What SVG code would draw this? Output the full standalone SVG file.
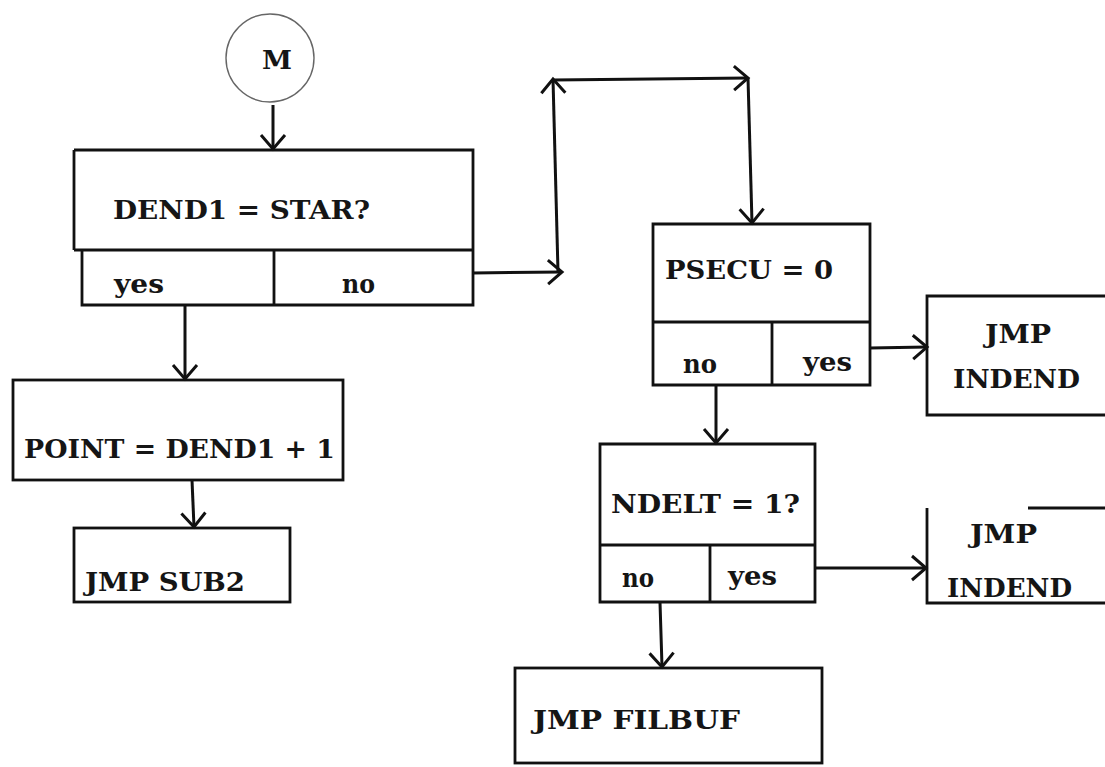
<svg xmlns="http://www.w3.org/2000/svg" width="1105" height="767" viewBox="0 0 1105 767">
<defs>
<style>
.b{fill:none;stroke:#111;stroke-width:2.8;stroke-linejoin:miter}
.c{fill:none;stroke:#111;stroke-width:3}
.t{font-family:"DejaVu Serif","Liberation Serif",serif;font-weight:bold;font-size:26px;fill:#151515}
</style>
<marker id="ah" markerUnits="userSpaceOnUse" markerWidth="32" markerHeight="32" refX="16" refY="14" orient="auto">
<path d="M2,2 L16,14 L2,26" fill="none" stroke="#111" stroke-width="3"/>
</marker>
</defs>
<rect width="1105" height="767" fill="#fff"/>
<g id="start">
<circle cx="270" cy="58" r="44" fill="none" stroke="#666" stroke-width="1.4"/>
<text class="t" x="262" y="69" textLength="30" lengthAdjust="spacingAndGlyphs">M</text>
</g>
<g id="dend1">
<path class="b" d="M74,150 H473 V305 H82 V250 M74,250 V150 M74,250 H473 M274,250 V305"/>
<text class="t" x="113" y="219" textLength="257" lengthAdjust="spacingAndGlyphs">DEND1 = STAR?</text>
<text class="t" x="114" y="293" textLength="50" lengthAdjust="spacingAndGlyphs">yes</text>
<text class="t" x="342" y="293" textLength="33" lengthAdjust="spacingAndGlyphs">no</text>
</g>
<g id="point">
<rect class="b" x="13" y="380" width="330" height="100"/>
<text class="t" x="24" y="458" textLength="311" lengthAdjust="spacingAndGlyphs">POINT = DEND1 + 1</text>
</g>
<g id="sub2">
<rect class="b" x="74" y="528" width="216" height="74"/>
<text class="t" x="85" y="591" textLength="160" lengthAdjust="spacingAndGlyphs">JMP SUB2</text>
</g>
<g id="psecu">
<path class="b" d="M653,224 H870 V385 H653 Z M653,322 H870 M772,322 V385"/>
<text class="t" x="665" y="279" textLength="168" lengthAdjust="spacingAndGlyphs">PSECU = 0</text>
<text class="t" x="683" y="373" textLength="34" lengthAdjust="spacingAndGlyphs">no</text>
<text class="t" x="803" y="371" textLength="49" lengthAdjust="spacingAndGlyphs">yes</text>
</g>
<g id="indend1">
<path class="b" d="M1110,296 H927 V415 H1110"/>
<text class="t" x="985" y="343" textLength="66" lengthAdjust="spacingAndGlyphs">JMP</text>
<text class="t" x="953" y="388" textLength="127" lengthAdjust="spacingAndGlyphs">INDEND</text>
</g>
<g id="ndelt">
<path class="b" d="M600,444 H815 V602 H600 Z M600,545 H815 M710,545 V602"/>
<text class="t" x="611" y="513" textLength="189" lengthAdjust="spacingAndGlyphs">NDELT = 1?</text>
<text class="t" x="622" y="587" textLength="32" lengthAdjust="spacingAndGlyphs">no</text>
<text class="t" x="728" y="585" textLength="49" lengthAdjust="spacingAndGlyphs">yes</text>
</g>
<g id="indend2">
<path class="b" d="M927,508 V603 H1110 M1028,508 H1110"/>
<text class="t" x="970" y="543" textLength="67" lengthAdjust="spacingAndGlyphs">JMP</text>
<text class="t" x="947" y="597" textLength="125" lengthAdjust="spacingAndGlyphs">INDEND</text>
</g>
<g id="filbuf">
<rect class="b" x="515" y="668" width="307" height="95"/>
<text class="t" x="533" y="729" textLength="207" lengthAdjust="spacingAndGlyphs">JMP FILBUF</text>
</g>
<g id="connectors">
<path class="c" d="M273,105 V149" marker-end="url(#ah)"/>
<path class="c" d="M185,305 V379" marker-end="url(#ah)"/>
<path class="c" d="M192,480 L194,527" marker-end="url(#ah)"/>
<path class="c" d="M473,273 L562,272" marker-end="url(#ah)"/>
<path class="c" d="M558,272 L553,79" marker-end="url(#ah)"/>
<path class="c" d="M553,80 L748,78" marker-end="url(#ah)"/>
<path class="c" d="M748,78 L752,223" marker-end="url(#ah)"/>
<path class="c" d="M870,348 L927,347" marker-end="url(#ah)"/>
<path class="c" d="M716,385 V443" marker-end="url(#ah)"/>
<path class="c" d="M815,568 H926" marker-end="url(#ah)"/>
<path class="c" d="M660,602 L662,667" marker-end="url(#ah)"/>
</g>
</svg>
